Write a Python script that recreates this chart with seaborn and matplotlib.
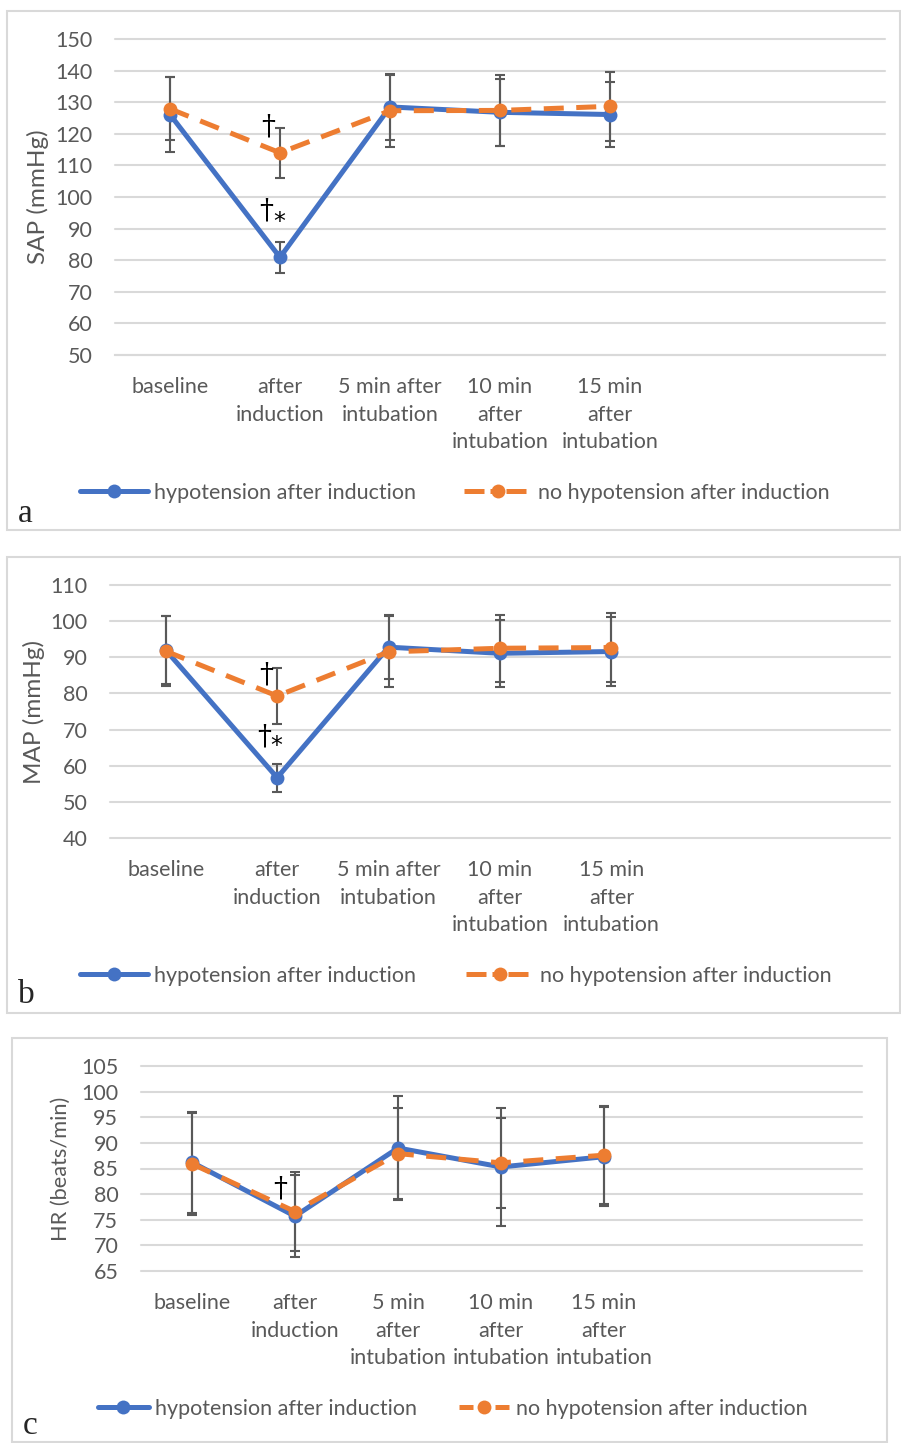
import numpy as np
import pandas as pd
import matplotlib.pyplot as plt
import seaborn as sns
from matplotlib.lines import Line2D
from matplotlib.patches import Rectangle

groups = ["hypotension after induction", "no hypotension after induction"]

labels_ab = ["baseline", "after\ninduction", "5 min after\nintubation",
             "10 min\nafter\nintubation", "15 min\nafter\nintubation"]
labels_c = ["baseline", "after\ninduction", "5 min\nafter\nintubation",
            "10 min\nafter\nintubation", "15 min\nafter\nintubation"]

# a: SAP
sap_hypo = [126.1, 80.9, 128.5, 126.8, 126.1]
sap_hypo_sd = [12.0, 4.8, 10.4, 10.7, 10.4]
sap_norm = [127.9, 114.0, 127.3, 127.4, 128.7]
sap_norm_sd = [10.0, 7.9, 11.4, 11.3, 10.9]

# b: MAP
map_hypo = [92.0, 56.7, 92.8, 91.1, 91.6]
map_hypo_sd = [9.5, 3.9, 8.8, 9.3, 9.5]
map_norm = [91.7, 79.3, 91.5, 92.5, 92.7]
map_norm_sd = [9.7, 7.7, 9.8, 9.3, 9.6]

# c: HR
hr_hypo = [86.2, 75.7, 89.0, 85.3, 87.3]
hr_hypo_sd = [9.8, 8.0, 10.2, 11.5, 9.7]
hr_norm = [85.9, 76.6, 87.9, 86.1, 87.6]
hr_norm_sd = [9.9, 7.7, 8.9, 8.8, 9.5]

BLUE = "#4472C4"
ORANGE = "#ED7D31"
GRAY = "#595959"
GRID = "#D9D9D9"
W, H = 901, 1443
FS = 15.5

sns.set_style("white")
plt.rcParams["font.family"] = ["Lato", "DejaVu Sans"]

fig = plt.figure(figsize=(W / 100, H / 100), dpi=100)


def px_rect(x0, y0, x1, y1):
    return [x0 / W, 1 - y1 / H, (x1 - x0) / W, (y1 - y0) / H]


def panel(rect, labels, hypo, hypo_sd, norm, norm_sd, ylim, step, ylabel, ylab_x, ylab_fs,
          axis_line=False):
    ax = fig.add_axes(rect)
    n = len(hypo)
    pos = list(range(n))
    df = pd.DataFrame({"pos": pos * 2, "value": hypo + norm,
                       "group": [groups[0]] * n + [groups[1]] * n})
    ax.errorbar(pos, hypo, yerr=hypo_sd, fmt="none", ecolor=GRAY, elinewidth=1.5,
                capsize=3.6, capthick=1.5, zorder=2)
    ax.errorbar(pos, norm, yerr=norm_sd, fmt="none", ecolor=GRAY, elinewidth=1.5,
                capsize=3.6, capthick=1.5, zorder=2)
    sns.lineplot(data=df, x="pos", y="value", hue="group", style="group",
                 palette=[BLUE, ORANGE], dashes=["", (4, 2.5)], markers=["o", "o"],
                 markersize=10, markeredgewidth=0, linewidth=3.6, legend=False,
                 ax=ax, zorder=3)
    ax.set_xlim(-0.5, 6.5)
    ax.set_xticks(range(7))
    ax.set_xticklabels(labels + [""] * (7 - n))
    for t in ax.get_xticklabels():
        t.set_linespacing(1.46)
    ax.set_ylim(*ylim)
    ax.set_yticks(np.arange(ylim[0], ylim[1] + 0.1, step))
    ax.tick_params(axis="x", length=0, pad=16, labelsize=FS, labelcolor=GRAY)
    ax.tick_params(axis="y", length=0, pad=16, labelsize=FS, labelcolor=GRAY)
    ax.yaxis.grid(True, color=GRID, lw=1.5)
    ax.xaxis.grid(False)
    for gl in ax.get_ygridlines():
        gl.set_clip_on(False)
    for s in ax.spines.values():
        s.set_visible(False)
    if axis_line:
        ax.spines["bottom"].set_visible(True)
        ax.spines["bottom"].set_color(GRID)
        ax.spines["bottom"].set_linewidth(1.5)
        ax.set_xticks(np.arange(-0.5, 6.6, 1), minor=True)
        ax.tick_params(axis="x", which="minor", direction="inout", length=12,
                       width=1.5, color=GRID)
    ax.set_xlabel("")
    ax.set_ylabel(ylabel, fontsize=ylab_fs, color=GRAY)
    ax.yaxis.set_label_coords(ylab_x, 0.5)
    return ax


def legend(x, y, handlelength, colspacing, dash):
    handles = [
        Line2D([], [], color=BLUE, lw=3.6, marker="o", ms=10, mew=0),
        Line2D([], [], color=ORANGE, lw=3.6, marker="o", ms=10, mew=0,
               ls=(0, (dash, 1.2, 2, 1.2, dash, 2))),
    ]
    fig.legend(handles, groups, loc="center left", bbox_to_anchor=(x / W, 1 - y / H),
               ncol=2, frameon=False, fontsize=FS, handlelength=handlelength,
               handletextpad=0.3, columnspacing=colspacing, borderpad=0,
               borderaxespad=0, labelcolor=GRAY)


def mark(ax, x, y, s, size):
    fam = ["DejaVu Serif"] if s == "\u2020" else ["DejaVu Sans"]
    ax.text(x, y, s, fontsize=size, family=fam, color="black", ha="center", va="center", zorder=5)


# panel a
ax_a = panel(px_rect(115, 39, 885, 355), labels_ab, sap_hypo, sap_hypo_sd, sap_norm, sap_norm_sd,
             (50, 150), 10, "SAP (mmHg)", -0.086, 17.5, axis_line=True)
mark(ax_a, 0.89, 122.0, "\u2020", 20)
mark(ax_a, 0.87, 95.5, "\u2020", 20)
mark(ax_a, 0.99, 92.0, "*", 17)
legend(80, 493, 3.15, 2.2, 4)

# panel b
ax_b = panel(px_rect(110, 585, 890, 838), labels_ab, map_hypo, map_hypo_sd, map_norm, map_norm_sd,
             (40, 110), 10, "MAP (mmHg)", -0.083, 17.5)
mark(ax_b, 0.90, 85.0, "\u2020", 20)
mark(ax_b, 0.88, 68.0, "\u2020", 20)
mark(ax_b, 0.99, 65.5, "*", 17)
legend(80, 976, 3.15, 2.3, 4)

# panel c
ax_c = panel(px_rect(140.5, 1066, 861.5, 1271), labels_c, hr_hypo, hr_hypo_sd, hr_norm, hr_norm_sd,
             (65, 105), 5, "HR (beats/min)", -0.097, 15.7)
mark(ax_c, 0.86, 81.0, "\u2020", 20)
legend(98, 1409, 2.35, 1.93, 2.8)

# panel frames
for x0, y0, x1, y1 in [(7, 11, 900, 530), (7, 557, 900, 1013), (12, 1038, 887, 1442)]:
    fig.add_artist(Rectangle((x0 / W, 1 - y1 / H), (x1 - x0) / W, (y1 - y0) / H,
                             transform=fig.transFigure, fill=False, ec=GRID, lw=1.5))

for x, y, s in [(18, 522, "a"), (18, 1003, "b"), (23, 1434, "c")]:
    fig.text(x / W, 1 - y / H, s, family=["Liberation Serif"], fontsize=24, va="baseline")

fig.savefig("out.png", dpi=100)
